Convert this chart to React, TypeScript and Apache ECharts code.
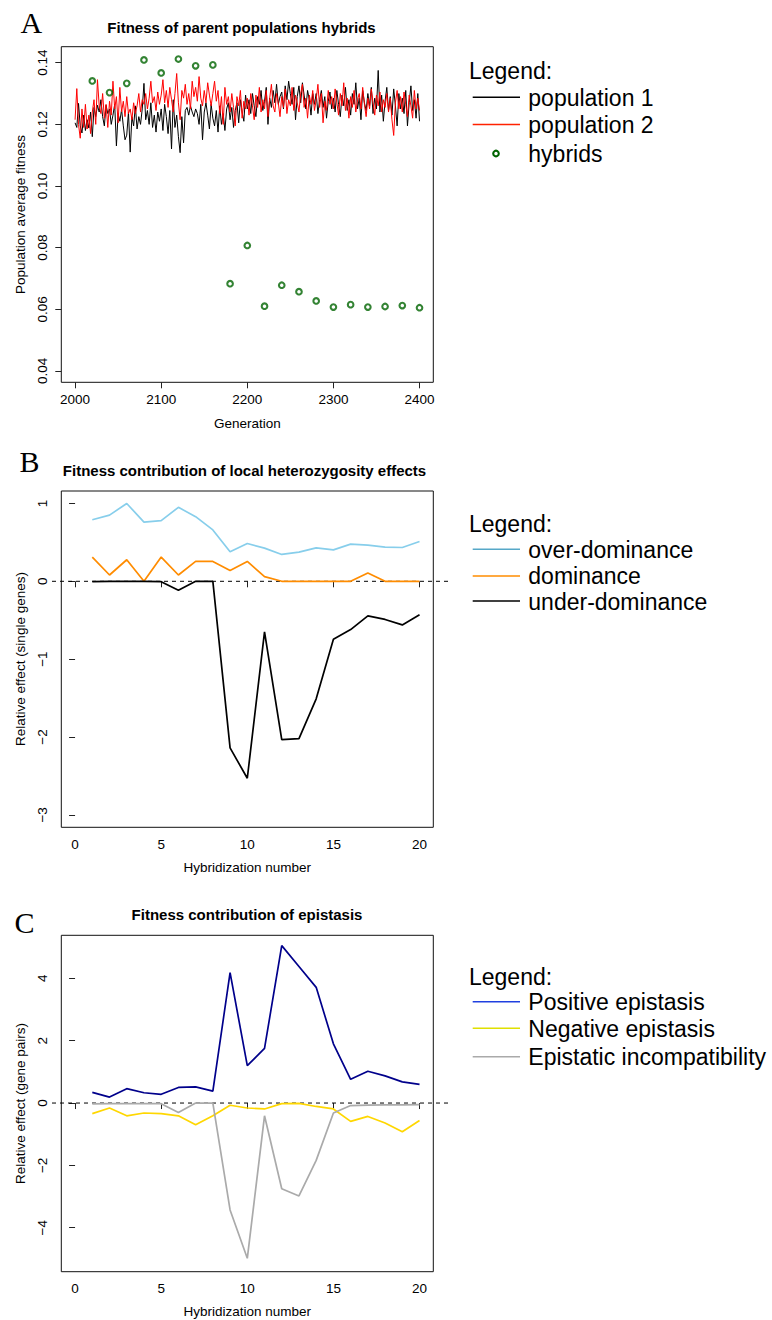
import React, { useEffect, useRef } from "react";
import * as echarts from "echarts";

// ---------- DATA ----------
// Panel A: population average fitness, every 2 generations from 2000 to 2400
const pop1: number[] = [
  0.1205, 0.1190, 0.1268, 0.1195, 0.1172, 0.1230, 0.1180, 0.1215, 0.1188, 0.1240,
  0.1160, 0.1255, 0.1225, 0.1262, 0.1240, 0.1280, 0.1225, 0.1195, 0.1262, 0.1235,
  0.1250, 0.1200, 0.1230, 0.1265, 0.1130, 0.1235, 0.1210, 0.1248, 0.1195, 0.1150,
  0.1165, 0.1240, 0.1110, 0.1225, 0.1195, 0.1260, 0.1185, 0.1225, 0.1200, 0.1250,
  0.1333, 0.1215, 0.1245, 0.1200, 0.1270, 0.1190, 0.1230, 0.1175, 0.1240, 0.1210,
  0.1250, 0.1180, 0.1265, 0.1225, 0.1170, 0.1245, 0.1120, 0.1280, 0.1190, 0.1230,
  0.1160, 0.1108, 0.1225, 0.1140, 0.1245, 0.1255, 0.1230, 0.1260, 0.1240, 0.1225,
  0.1250, 0.1235, 0.1200, 0.1265, 0.1150, 0.1240, 0.1270, 0.1230, 0.1185, 0.1265,
  0.1220, 0.1195, 0.1245, 0.1175, 0.1260, 0.1200, 0.1235, 0.1180, 0.1250, 0.1270,
  0.1215, 0.1255, 0.1190, 0.1245, 0.1270, 0.1205, 0.1280, 0.1240, 0.1210, 0.1295,
  0.1250, 0.1280, 0.1235, 0.1300, 0.1260, 0.1225, 0.1290, 0.1265, 0.1310, 0.1245,
  0.1275, 0.1320, 0.1200, 0.1285, 0.1255, 0.1310, 0.1270, 0.1330, 0.1265, 0.1290,
  0.1305, 0.1250, 0.1325, 0.1280, 0.1340, 0.1300, 0.1265, 0.1320, 0.1215, 0.1290,
  0.1325, 0.1270, 0.1335, 0.1295, 0.1250, 0.1310, 0.1280, 0.1230, 0.1300, 0.1265,
  0.1300, 0.1235, 0.1280, 0.1310, 0.1255, 0.1290, 0.1220, 0.1275, 0.1305, 0.1250,
  0.1285, 0.1240, 0.1310, 0.1265, 0.1225, 0.1295, 0.1260, 0.1320, 0.1245, 0.1280,
  0.1230, 0.1300, 0.1265, 0.1335, 0.1250, 0.1285, 0.1215, 0.1310, 0.1270, 0.1245,
  0.1300, 0.1260, 0.1320, 0.1235, 0.1285, 0.1250, 0.1375, 0.1240, 0.1295, 0.1210,
  0.1275, 0.1320, 0.1245, 0.1290, 0.1230, 0.1315, 0.1260, 0.1195, 0.1300, 0.1250,
  0.1285, 0.1235, 0.1310, 0.1195, 0.1270, 0.1325, 0.1245, 0.1280, 0.1220, 0.1300,
  0.1210,
];
const pop2: number[] = [
  0.1215, 0.1316, 0.1200, 0.1155, 0.1250, 0.1190, 0.1265, 0.1185, 0.1230, 0.1170,
  0.1240, 0.1280, 0.1200, 0.1345, 0.1260, 0.1235, 0.1300, 0.1220, 0.1265, 0.1190,
  0.1275, 0.1230, 0.1340, 0.1250, 0.1290, 0.1205, 0.1320, 0.1240, 0.1275, 0.1225,
  0.1290, 0.1235, 0.1250, 0.1215, 0.1270, 0.1235, 0.1260, 0.1300, 0.1240, 0.1280,
  0.1265, 0.1300, 0.1250, 0.1285, 0.1340, 0.1270, 0.1290, 0.1245, 0.1305, 0.1265,
  0.1295, 0.1345, 0.1270, 0.1310, 0.1255, 0.1320, 0.1280, 0.1240, 0.1300, 0.1365,
  0.1270, 0.1215, 0.1310, 0.1285, 0.1330, 0.1265, 0.1300, 0.1250, 0.1340, 0.1290,
  0.1320, 0.1275, 0.1355, 0.1285, 0.1260, 0.1310, 0.1270, 0.1335, 0.1295, 0.1260,
  0.1300, 0.1340, 0.1275, 0.1310, 0.1235, 0.1290, 0.1200, 0.1320, 0.1265, 0.1290,
  0.1240, 0.1300, 0.1255, 0.1195, 0.1290, 0.1260, 0.1310, 0.1220, 0.1275, 0.1250,
  0.1285, 0.1230, 0.1300, 0.1260, 0.1215, 0.1295, 0.1255, 0.1320, 0.1240, 0.1280,
  0.1250, 0.1310, 0.1225, 0.1285, 0.1330, 0.1260, 0.1240, 0.1300, 0.1270, 0.1225,
  0.1290, 0.1255, 0.1315, 0.1235, 0.1280, 0.1260, 0.1320, 0.1245, 0.1295, 0.1270,
  0.1240, 0.1300, 0.1330, 0.1255, 0.1285, 0.1220, 0.1295, 0.1265, 0.1310, 0.1245,
  0.1280, 0.1330, 0.1255, 0.1300, 0.1205, 0.1275, 0.1245, 0.1310, 0.1265, 0.1290,
  0.1250, 0.1315, 0.1270, 0.1230, 0.1300, 0.1260, 0.1335, 0.1245, 0.1285, 0.1220,
  0.1290, 0.1255, 0.1310, 0.1240, 0.1280, 0.1300, 0.1250, 0.1320, 0.1265, 0.1225,
  0.1285, 0.1250, 0.1315, 0.1270, 0.1230, 0.1295, 0.1260, 0.1305, 0.1240, 0.1280,
  0.1255, 0.1300, 0.1240, 0.1285, 0.1215, 0.1164, 0.1270, 0.1310, 0.1250, 0.1290,
  0.1240, 0.1305, 0.1265, 0.1225, 0.1295, 0.1260, 0.1220, 0.1310, 0.1250, 0.1285,
  0.1245,
];
const hybridGenerations: number[] = [
  2020, 2040, 2060, 2080, 2100, 2120, 2140, 2160, 2180, 2200,
  2220, 2240, 2260, 2280, 2300, 2320, 2340, 2360, 2380, 2400,
];
const hybridFitness: number[] = [
  0.1341, 0.1303, 0.1333, 0.1409, 0.1367, 0.1412, 0.1390, 0.1393, 0.0683, 0.0807,
  0.0610, 0.0678, 0.0657, 0.0627, 0.0607, 0.0615, 0.0607, 0.0609, 0.0612, 0.0605,
];

// Panels B and C
const hybridization: number[] = [1, 2, 3, 4, 5, 6, 7, 8, 9, 10, 11, 12, 13, 14, 15, 16, 17, 18, 19, 20];
const overDominance: number[] = [
  0.79, 0.85, 1.0, 0.76, 0.78, 0.95, 0.83, 0.66, 0.38, 0.485,
  0.426, 0.345, 0.374, 0.43, 0.404, 0.477, 0.464, 0.438, 0.434, 0.511,
];
const dominance: number[] = [
  0.311, 0.081, 0.277, 0.0, 0.311, 0.081, 0.255, 0.255, 0.14, 0.255,
  0.06, 0.0, 0.0, 0.0, 0.0, 0.0, 0.106, 0.0, 0.0, 0.0,
];
const underDominance: number[] = [
  -0.005, 0.0, 0.0, 0.0, -0.005, -0.115, 0.0, 0.0, -2.14, -2.53,
  -0.65, -2.035, -2.02, -1.51, -0.745, -0.62, -0.445, -0.49, -0.56, -0.43,
];
const positiveEpistasis: number[] = [
  0.34, 0.19, 0.46, 0.33, 0.28, 0.5, 0.52, 0.38, 4.18, 1.2,
  1.75, 5.05, 4.38, 3.71, 1.9, 0.76, 1.02, 0.87, 0.68, 0.6,
];
const negativeEpistasis: number[] = [
  -0.34, -0.16, -0.41, -0.32, -0.34, -0.41, -0.7, -0.41, -0.07, -0.16,
  -0.19, -0.02, -0.01, -0.11, -0.19, -0.59, -0.43, -0.64, -0.92, -0.56,
];
const epistaticIncompatibility: number[] = [
  -0.03, -0.02, -0.02, -0.02, -0.02, -0.3, 0.0, 0.0, -3.43, -4.98,
  -0.41, -2.75, -2.98, -1.84, -0.32, -0.08, -0.07, -0.06, -0.06, -0.05,
];

// Tick labels
const ticksAx: number[] = [2000, 2100, 2200, 2300, 2400];
const ticksAy: number[] = [0.04, 0.06, 0.08, 0.1, 0.12, 0.14];
const ticksBCx: number[] = [0, 5, 10, 15, 20];
const ticksBy: number[] = [-3, -2, -1, 0, 1];
const ticksCy: number[] = [-4, -2, 0, 2, 4];

// ---------- STYLE ----------
const SANS = '"Liberation Sans", Arial, Helvetica, sans-serif';
const SERIF = '"Liberation Serif", "Times New Roman", serif';
const FS = 13.5;

const fmt = (v: number) => {
  const s = String(Math.round(v * 1000) / 1000);
  return s.startsWith("-") ? "\u2212" + s.slice(1) : s;
};
const fmt2 = (v: number) => v.toFixed(2);

function xAxisCfg(gridIndex: number, min: number, max: number, ticks: number[]) {
  return {
    type: "value",
    gridIndex,
    min,
    max,
    axisLine: { show: false },
    splitLine: { show: false },
    axisTick: { show: true, inside: false, length: 6, customValues: ticks, lineStyle: { color: "#222", width: 1 } },
    axisLabel: { show: true, customValues: ticks, margin: 10, fontFamily: SANS, fontSize: FS, color: "#000", formatter: fmt },
  };
}
function yAxisCfg(gridIndex: number, min: number, max: number, ticks: number[], formatter = fmt) {
  return {
    type: "value",
    gridIndex,
    min,
    max,
    axisLine: { show: false },
    splitLine: { show: false },
    axisTick: { show: true, inside: false, length: 6, customValues: ticks, lineStyle: { color: "#222", width: 1 } },
    axisLabel: { show: true, rotate: 90, customValues: ticks, margin: 12, fontFamily: SANS, fontSize: FS, color: "#000", formatter },
  };
}
function hiddenAxis(gridIndex: number, min: number, max: number) {
  return { type: "value", gridIndex, min, max, show: false, splitLine: { show: false } };
}

function text(x: number, y: number, t: string, opts: any = {}) {
  return {
    type: "text",
    x,
    y,
    rotation: opts.rotation || 0,
    silent: true,
    style: {
      text: t,
      fill: "#000",
      fontFamily: opts.fontFamily || SANS,
      fontSize: opts.fontSize || FS,
      fontWeight: opts.fontWeight || "normal",
      align: opts.align || "left",
      verticalAlign: "middle",
    },
  };
}
function legLine(y: number, color: string) {
  return { type: "line", silent: true, shape: { x1: 472.7, y1: y, x2: 520, y2: y }, style: { stroke: color, lineWidth: 1.6 } };
}

export default function App() {
  const ref = useRef<HTMLDivElement>(null);

  useEffect(() => {
    document.body.style.margin = "0";
    const chart = echarts.init(ref.current!, undefined, { renderer: "svg" });

    const gens = pop1.map((_, i) => 2000 + 2 * i);
    const gridBase = { show: true, borderColor: "#111", borderWidth: 1, backgroundColor: "transparent", containLabel: false };

    const line = (name: string, xi: number, xs: number[], ys: number[], color: string, width: number, z = 3) => ({
      name,
      type: "line",
      xAxisIndex: xi,
      yAxisIndex: xi,
      data: xs.map((x, i) => [x, ys[i]]),
      symbol: "none",
      showSymbol: false,
      lineStyle: { color, width },
      itemStyle: { color },
      z,
      silent: true,
    });

    const legendLeft = 469;
    const legTextX = 528.3;
    const LFS = 23;

    chart.setOption({
      animation: false,
      backgroundColor: "#fff",
      grid: [
        { ...gridBase, left: 61.3, top: 46.7, width: 372, height: 335.6 },
        { ...gridBase, left: 61.3, top: 491, width: 372, height: 336.3 },
        { ...gridBase, left: 61.3, top: 935.3, width: 372, height: 336.4 },
        { show: false, left: 52, top: 491, width: 400, height: 336.3 },
        { show: false, left: 52, top: 935.3, width: 400, height: 336.4 },
      ],
      xAxis: [
        xAxisCfg(0, 1984, 2416, ticksAx),
        xAxisCfg(1, -0.8, 20.8, ticksBCx),
        xAxisCfg(2, -0.8, 20.8, ticksBCx),
        hiddenAxis(3, 0, 1),
        hiddenAxis(4, 0, 1),
      ],
      yAxis: [
        yAxisCfg(0, 0.0363, 0.1452, ticksAy, fmt2),
        yAxisCfg(1, -3.16, 1.16, ticksBy),
        yAxisCfg(2, -5.41, 5.38, ticksCy),
        hiddenAxis(3, -3.16, 1.16),
        hiddenAxis(4, -5.41, 5.38),
      ],
      series: [
        line("population 1", 0, gens, pop1, "#000", 1),
        line("population 2", 0, gens, pop2, "#ff0000", 1, 4),
        {
          name: "hybrids",
          type: "scatter",
          xAxisIndex: 0,
          yAxisIndex: 0,
          data: hybridGenerations.map((g, i) => [g, hybridFitness[i]]),
          symbol: "circle",
          symbolSize: 5.6,
          itemStyle: { color: "rgba(255,255,255,0)", borderColor: "#006400", borderWidth: 2.1 },
          z: 5,
          silent: true,
        },
        // zero reference lines (dashed)
        {
          type: "line",
          xAxisIndex: 3,
          yAxisIndex: 3,
          data: [[0, 0], [1, 0]],
          symbol: "none",
          lineStyle: { color: "#000", width: 1, type: [4, 4] },
          z: 1,
          silent: true,
        },
        {
          type: "line",
          xAxisIndex: 4,
          yAxisIndex: 4,
          data: [[0, 0], [1, 0]],
          symbol: "none",
          lineStyle: { color: "#000", width: 1, type: [4, 4] },
          z: 1,
          silent: true,
        },
        line("over-dominance", 1, hybridization, overDominance, "#87CEEB", 1.7),
        line("dominance", 1, hybridization, dominance, "#FF8C00", 1.7),
        line("under-dominance", 1, hybridization, underDominance, "#000", 1.7),
        line("Positive epistasis", 2, hybridization, positiveEpistasis, "#00008B", 1.7),
        line("Negative epistasis", 2, hybridization, negativeEpistasis, "#FFD700", 1.7),
        line("Epistatic incompatibility", 2, hybridization, epistaticIncompatibility, "#AAAAAA", 1.7),
      ],
      graphic: [
        // panel letters
        text(20.5, 22, "A", { fontFamily: SERIF, fontSize: 30 }),
        text(19.5, 461.5, "B", { fontFamily: SERIF, fontSize: 30 }),
        text(14.5, 922, "C", { fontFamily: SERIF, fontSize: 30 }),
        // titles
        text(241.5, 27, "Fitness of parent populations hybrids", { fontWeight: "bold", fontSize: 15, align: "center" }),
        text(244.5, 470.5, "Fitness contribution of local heterozygosity effects", { fontWeight: "bold", fontSize: 15, align: "center" }),
        text(247, 914.5, "Fitness contribution of epistasis", { fontWeight: "bold", fontSize: 15, align: "center" }),
        // axis titles
        text(247.3, 423, "Generation", { align: "center" }),
        text(247.3, 867.5, "Hybridization number", { align: "center" }),
        text(247.3, 1311.5, "Hybridization number", { align: "center" }),
        text(20, 214.5, "Population average fitness", { align: "center", rotation: Math.PI / 2 }),
        text(20, 659, "Relative effect (single genes)", { align: "center", rotation: Math.PI / 2 }),
        text(20, 1103.5, "Relative effect (gene pairs)", { align: "center", rotation: Math.PI / 2 }),
        // legend A
        text(legendLeft, 71, "Legend:", { fontSize: LFS }),
        legLine(97.3, "#000"),
        text(legTextX, 97.5, "population 1", { fontSize: LFS }),
        legLine(124.5, "#FF2200"),
        text(legTextX, 125, "population 2", { fontSize: LFS }),
        { type: "circle", silent: true, shape: { cx: 496, cy: 153.5, r: 2.8 }, style: { fill: "none", stroke: "#006400", lineWidth: 2.1 } },
        text(legTextX, 153.5, "hybrids", { fontSize: LFS }),
        // legend B
        text(legendLeft, 523.5, "Legend:", { fontSize: LFS }),
        legLine(549.3, "#56A8C8"),
        text(legTextX, 549.5, "over-dominance", { fontSize: LFS }),
        legLine(576, "#FF8C00"),
        text(legTextX, 576, "dominance", { fontSize: LFS }),
        legLine(601, "#000"),
        text(legTextX, 601.5, "under-dominance", { fontSize: LFS }),
        // legend C
        text(legendLeft, 976.5, "Legend:", { fontSize: LFS }),
        legLine(1001.7, "#2040E0"),
        text(legTextX, 1002, "Positive epistasis", { fontSize: LFS }),
        legLine(1028.3, "#E0E000"),
        text(legTextX, 1028.5, "Negative epistasis", { fontSize: LFS }),
        legLine(1056.7, "#AAAAAA"),
        text(legTextX, 1057, "Epistatic incompatibility", { fontSize: LFS }),
      ],
    });

    return () => chart.dispose();
  }, []);

  return <div ref={ref} style={{ position: "absolute", left: 0, top: 0, width: 772, height: 1320 }} />;
}
